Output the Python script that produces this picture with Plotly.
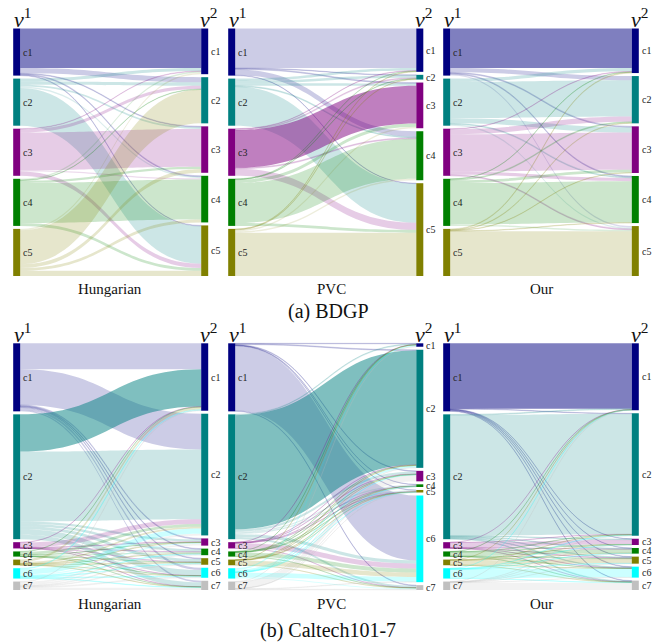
import plotly.graph_objects as go

# ---------------------------------------------------------------
# Cluster labels and colours
# ---------------------------------------------------------------
BDGP_CLUSTERS = ["c1", "c2", "c3", "c4", "c5"]
CALTECH_CLUSTERS = ["c1", "c2", "c3", "c4", "c5", "c6", "c7"]
CLUSTER_RGB = [(0, 0, 128), (0, 128, 128), (128, 0, 128), (0, 128, 0),
               (128, 128, 0), (0, 255, 255), (192, 192, 192)]

METHODS = ["Hungarian", "PVC", "Our"]
DATASET_TITLES = ["(a) BDGP", "(b) Caltech101-7"]

# ---------------------------------------------------------------
# Cluster correspondence counts: rows = view-1 cluster, cols = view-2 cluster
# ---------------------------------------------------------------
bdgp_hungarian = [
    [420, 55, 8, 10, 7],
    [30, 35, 20, 15, 400],
    [5, 35, 400, 15, 45],
    [15, 5, 25, 425, 30],
    [15, 360, 40, 30, 55],
]
bdgp_pvc = [
    [420, 5, 10, 60, 5],
    [25, 25, 25, 10, 415],
    [5, 10, 400, 10, 75],
    [5, 5, 35, 425, 30],
    [5, 5, 15, 15, 460],
]
bdgp_our = [
    [420, 45, 10, 10, 15],
    [35, 385, 55, 10, 15],
    [5, 55, 395, 35, 10],
    [5, 10, 30, 440, 15],
    [8, 7, 5, 5, 475],
]
caltech_hungarian = [
    [166, 228, 6, 5, 5, 15, 10],
    [238, 447, 15, 15, 20, 35, 28],
    [2, 30, 3, 2, 1, 1, 1],
    [2, 18, 2, 8, 1, 1, 1],
    [15, 10, 2, 2, 5, 1, 1],
    [5, 35, 8, 5, 5, 5, 3],
    [3, 10, 10, 5, 5, 6, 15],
]
caltech_pvc = [
    [3, 5, 4, 2, 2, 415, 4],
    [5, 730, 15, 8, 8, 20, 12],
    [1, 2, 2, 1, 1, 32, 1],
    [1, 2, 2, 1, 1, 25, 1],
    [1, 2, 1, 1, 1, 29, 1],
    [10, 12, 3, 2, 2, 30, 7],
    [1, 2, 40, 2, 1, 3, 5],
]
caltech_our = [
    [418, 3, 2, 2, 3, 4, 3],
    [5, 770, 4, 4, 5, 5, 5],
    [1, 2, 30, 2, 3, 1, 1],
    [1, 2, 1, 24, 3, 1, 1],
    [1, 2, 1, 2, 28, 1, 1],
    [1, 3, 1, 1, 2, 56, 2],
    [1, 1, 1, 1, 1, 2, 47],
]

# flows drawn with the stronger tint: (view-1 cluster, view-2 cluster)
bdgp_hungarian_strong = [(0, 0)]
bdgp_pvc_strong = [(2, 2)]
bdgp_our_strong = [(0, 0)]
caltech_hungarian_strong = [(1, 0)]
caltech_pvc_strong = [(1, 1)]
caltech_our_strong = [(0, 0)]

PANELS = [
    (0, 0, bdgp_hungarian, bdgp_hungarian_strong, BDGP_CLUSTERS),
    (0, 1, bdgp_pvc, bdgp_pvc_strong, BDGP_CLUSTERS),
    (0, 2, bdgp_our, bdgp_our_strong, BDGP_CLUSTERS),
    (1, 0, caltech_hungarian, caltech_hungarian_strong, CALTECH_CLUSTERS),
    (1, 1, caltech_pvc, caltech_pvc_strong, CALTECH_CLUSTERS),
    (1, 2, caltech_our, caltech_our_strong, CALTECH_CLUSTERS),
]

# ---------------------------------------------------------------
# Page geometry (pixels)
# ---------------------------------------------------------------
W, H = 655, 642
LEFT_NODE_CX = [16.7, 231.7, 446.7]     # centre of the view-1 node bars
RIGHT_NODE_CX = [204.7, 419.8, 635.3]   # centre of the view-2 node bars
ROW_SPAN = [(28.5, 276.0), (343.3, 590.0)]
NODE_W = 7
PAD = 3
TITLE_CX = [109.5, 331.0, 541.0]
TITLE_Y = [289.0, 604.0]
DATASET_Y = [311.0, 630.0]
VLABEL_Y = [18.0, 333.0]

SERIF = "Liberation Serif"


def rgba(rgb, a):
    return "rgba(%d,%d,%d,%.2f)" % (rgb[0], rgb[1], rgb[2], a)


def px(x):
    return x / W


def py(y):
    return 1 - y / H


fig = go.Figure()
annotations = []

for row, col, matrix, strong, names in PANELS:
    n = len(matrix)
    out_tot = [sum(r) for r in matrix]
    in_tot = [sum(matrix[i][j] for i in range(n)) for j in range(n)]
    total = sum(out_tot)

    top, bot = ROW_SPAN[row]
    hdom = bot - top
    ky = (hdom - (n - 1) * PAD) / total

    x0 = LEFT_NODE_CX[col] - NODE_W / 2
    x1 = RIGHT_NODE_CX[col] + NODE_W / 2
    wdom = x1 - x0

    node_x, node_y, node_cy_px = [], [], []
    for side, totals in ((0, out_tot), (1, in_tot)):
        cursor = 0.0
        for v in totals:
            h = v * ky
            cy = cursor + h / 2
            node_x.append((NODE_W / 2) / wdom if side == 0 else 1 - (NODE_W / 2) / wdom)
            node_y.append(cy / hdom)
            node_cy_px.append(top + cy)
            cursor += h + PAD

    src, tgt, val, lcol = [], [], [], []
    for i in range(n):
        for j in range(n):
            if matrix[i][j] > 0:
                src.append(i)
                tgt.append(n + j)
                val.append(matrix[i][j])
                a = 0.5 if (i, j) in strong else (0.2 if matrix[i][j] * ky >= 1.5 else 0.14)
                lcol.append(rgba(CLUSTER_RGB[i], a))

    node_cols = [rgba(CLUSTER_RGB[k], 1) for k in range(n)] * 2

    fig.add_trace(go.Sankey(
        arrangement="fixed",
        domain=dict(x=[px(x0), px(x1)], y=[py(bot), py(top)]),
        hoverinfo="none",
        textfont=dict(family=SERIF, size=1, color="rgba(0,0,0,0)"),
        node=dict(
            label=[""] * (2 * n),
            x=node_x,
            y=node_y,
            pad=PAD,
            thickness=NODE_W,
            color=node_cols,
            line=dict(width=0, color="rgba(0,0,0,0)"),
        ),
        link=dict(source=src, target=tgt, value=val, color=lcol,
                  line=dict(width=0, color="rgba(0,0,0,0)")),
    ))

    # cluster labels
    for k in range(n):
        annotations.append(dict(
            x=px(x0 + NODE_W + 1), y=py(node_cy_px[k]), xref="paper", yref="paper",
            text=names[k], showarrow=False, xanchor="left", yanchor="middle",
            font=dict(family=SERIF, size=10, color="#222"),
        ))
        annotations.append(dict(
            x=px(x1 + 1), y=py(node_cy_px[n + k]), xref="paper", yref="paper",
            text=names[k], showarrow=False, xanchor="left", yanchor="middle",
            font=dict(family=SERIF, size=10, color="#222"),
        ))

    # view labels
    annotations.append(dict(
        x=px(x0 - 1), y=py(VLABEL_Y[row]), xref="paper", yref="paper",
        text="<i>v</i><sup>1</sup>", showarrow=False, xanchor="left", yanchor="middle",
        font=dict(family=SERIF, size=22, color="#111"),
    ))
    annotations.append(dict(
        x=px(x1 + 11), y=py(VLABEL_Y[row]), xref="paper", yref="paper",
        text="<i>v</i><sup>2</sup>", showarrow=False, xanchor="right", yanchor="middle",
        font=dict(family=SERIF, size=22, color="#111"),
    ))

    # method title
    annotations.append(dict(
        x=px(TITLE_CX[col]), y=py(TITLE_Y[row]), xref="paper", yref="paper",
        text=METHODS[col], showarrow=False, xanchor="center", yanchor="middle",
        font=dict(family=SERIF, size=15, color="#111"),
    ))

for row, title in enumerate(DATASET_TITLES):
    annotations.append(dict(
        x=px(328), y=py(DATASET_Y[row]), xref="paper", yref="paper",
        text=title, showarrow=False, xanchor="center", yanchor="middle",
        font=dict(family=SERIF, size=20, color="#111"),
    ))

fig.update_layout(
    width=W, height=H,
    margin=dict(l=0, r=0, t=0, b=0),
    paper_bgcolor="white",
    plot_bgcolor="white",
    annotations=annotations,
    showlegend=False,
)

fig.write_html("out.html")
